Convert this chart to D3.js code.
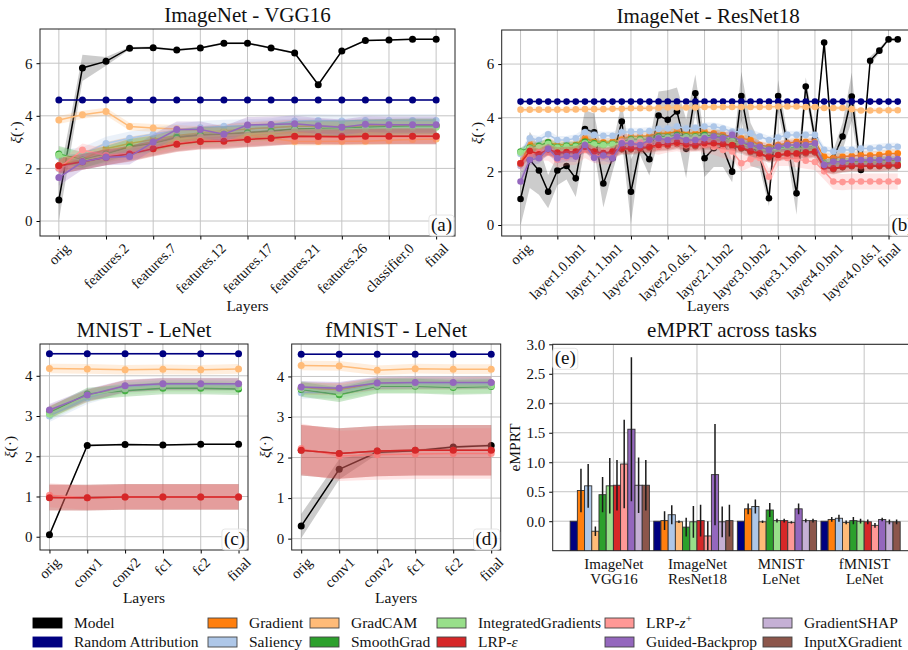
<!DOCTYPE html>
<html>
<head>
<meta charset="utf-8">
<script src="https://cdn.jsdelivr.net/npm/d3@7"></script>
<style>
  body { margin: 0; background: #fff; }
  svg text { font-family: "Liberation Serif", "DejaVu Serif", serif; fill: #111; }
</style>
</head>
<body>
<div id="chart"></div>
<script>

// ---- data ----
const methods = ["Model", "Random Attribution", "Gradient", "Saliency", "GradCAM", "SmoothGrad",
  "IntegratedGradients", "LRP-ε", "LRP-z+", "Guided-Backprop", "GradientSHAP", "InputXGradient"];
const colors = ["#000000", "#000080", "#ff7f0e", "#aec7e8", "#ffbb78", "#2ca02c",
  "#98df8a", "#d62728", "#ff9896", "#9467bd", "#c5b0d5", "#8c564b"];
// draw order (later ones sit on top)
const drawOrder = [0, 10, 11, 1, 2, 3, 4, 5, 6, 8, 7, 9];

const layersVGG = ["orig", "features.2", "features.7", "features.12", "features.17",
  "features.21", "features.26", "classifier.0", "final"];
const layersResNet = ["orig", "layer1.0.bn1", "layer1.1.bn1", "layer2.0.bn1", "layer2.0.ds.1",
  "layer2.1.bn2", "layer3.0.bn2", "layer3.1.bn1", "layer4.0.bn1", "layer4.0.ds.1", "final"];
const layersLeNet = ["orig", "conv1", "conv2", "fc1", "fc2", "final"];

// ImageNet - VGG16, mean per method (rows follow `methods`)
const vggMeans = [
  [0.80, 5.82, 6.07, 6.57, 6.59, 6.50, 6.58, 6.76, 6.76, 6.58, 6.39, 5.18, 6.46, 6.86, 6.88, 6.91, 6.91],
  [4.60, 4.60, 4.60, 4.60, 4.60, 4.60, 4.60, 4.60, 4.60, 4.60, 4.60, 4.60, 4.60, 4.60, 4.60, 4.60, 4.60],
  [2.10, 2.35, 2.75, 2.95, 3.10, 3.25, 3.35, 3.42, 3.50, 3.55, 3.60, 3.60, 3.58, 3.62, 3.62, 3.62, 3.62],
  [2.45, 2.55, 2.95, 3.15, 3.30, 3.45, 3.55, 3.60, 3.62, 3.66, 3.80, 3.82, 3.80, 3.82, 3.82, 3.82, 3.82],
  [3.84, 4.04, 4.16, 3.59, 3.54, 3.50, 3.45, 3.38, 3.28, 3.15, 3.02, 3.02, 3.03, 3.03, 3.07, 3.10, 3.12],
  [2.55, 2.32, 2.55, 2.82, 2.95, 3.18, 3.27, 3.30, 3.36, 3.42, 3.50, 3.52, 3.52, 3.56, 3.58, 3.60, 3.60],
  [2.50, 2.30, 2.50, 2.75, 2.90, 3.10, 3.20, 3.25, 3.30, 3.35, 3.45, 3.48, 3.50, 3.52, 3.55, 3.56, 3.56],
  [2.10, 2.25, 2.42, 2.55, 2.75, 2.92, 3.02, 3.03, 3.10, 3.15, 3.22, 3.21, 3.20, 3.22, 3.22, 3.22, 3.22],
  [2.02, 2.70, 2.50, 2.58, 2.78, 2.95, 3.05, 3.08, 3.12, 3.16, 3.19, 3.19, 3.18, 3.20, 3.20, 3.20, 3.20],
  [1.65, 2.25, 2.42, 2.45, 3.00, 3.48, 3.48, 3.30, 3.65, 3.67, 3.70, 3.62, 3.56, 3.68, 3.66, 3.66, 3.66],
  [2.00, 2.30, 2.60, 2.85, 3.00, 3.20, 3.30, 3.40, 3.50, 3.55, 3.60, 3.60, 3.58, 3.60, 3.60, 3.60, 3.60],
  [2.10, 2.25, 2.42, 2.58, 2.78, 2.95, 3.05, 3.08, 3.12, 3.18, 3.22, 3.22, 3.22, 3.22, 3.22, 3.22, 3.22]
];
const vggModelStd = [0.78, 0.50, 0.17, 0.05, 0.04, 0.04, 0.04, 0.04, 0.04, 0.04, 0.04, 0.05, 0.04, 0.03, 0.03, 0.03, 0.03];
const vggStd = [null, 0.03, 0.25, 0.25, 0.15, 0.3, 0.3, 0.3, 0.25, 0.3, 0.3, 0.3];

// ImageNet - ResNet18
const resMeans = [
  [0.97, 2.43, 2.03, 1.24, 2.03, 2.20, 1.74, 3.58, 3.46, 1.55, 2.49, 3.86, 1.24, 2.90, 2.45, 4.08, 3.92, 4.23, 2.84, 4.91, 2.49,
   2.86, 2.86, 1.99, 4.81, 3.00, 2.60, 1.00, 4.81, 3.00, 1.18, 5.16, 3.20, 6.80, 2.49, 3.30, 4.79, 2.05, 6.12, 6.50, 6.92, 6.92],
  [4.60, 4.60, 4.60, 4.60, 4.60, 4.60, 4.60, 4.60, 4.60, 4.60, 4.60, 4.60, 4.60, 4.60, 4.60, 4.60, 4.60, 4.60, 4.60, 4.60, 4.60,
   4.60, 4.60, 4.60, 4.60, 4.60, 4.60, 4.60, 4.60, 4.60, 4.60, 4.60, 4.60, 4.60, 4.60, 4.60, 4.60, 4.60, 4.60, 4.60, 4.60, 4.60],
  [2.30, 3.02, 2.92, 3.08, 2.98, 3.00, 3.00, 3.23, 3.10, 3.08, 3.10, 3.19, 3.30, 3.30, 3.33, 3.42, 3.42, 3.48, 3.42, 3.42, 3.48,
   3.42, 3.36, 3.30, 3.23, 3.17, 2.98, 2.92, 2.98, 3.05, 3.10, 3.10, 3.10, 2.55, 2.49, 2.55, 2.57, 2.60, 2.60, 2.62, 2.67, 2.67],
  [2.65, 3.23, 3.17, 3.38, 3.17, 3.17, 3.23, 3.46, 3.36, 3.33, 3.33, 3.46, 3.48, 3.48, 3.50, 3.58, 3.60, 3.67, 3.60, 3.62, 3.67,
   3.67, 3.60, 3.48, 3.48, 3.42, 3.30, 3.17, 3.26, 3.36, 3.36, 3.36, 3.36, 2.80, 2.74, 2.80, 2.80, 2.85, 2.85, 2.88, 2.92, 2.92],
  [4.30, 4.30, 4.30, 4.30, 4.30, 4.30, 4.31, 4.32, 4.32, 4.32, 4.33, 4.33, 4.35, 4.35, 4.35, 4.37, 4.38, 4.38, 4.38, 4.38, 4.40,
   4.40, 4.40, 4.40, 4.40, 4.40, 4.40, 4.40, 4.42, 4.42, 4.42, 4.40, 4.40, 4.36, 4.36, 4.36, 4.32, 4.27, 4.27, 4.27, 4.28, 4.28],
  [2.74, 2.88, 2.95, 3.08, 2.90, 2.95, 2.95, 3.10, 3.05, 3.00, 3.02, 3.10, 3.20, 3.20, 3.18, 3.30, 3.28, 3.35, 3.30, 3.30, 3.35,
   3.30, 3.25, 3.15, 3.05, 2.95, 2.85, 2.80, 2.85, 2.90, 2.85, 2.90, 2.90, 2.30, 2.35, 2.35, 2.35, 2.35, 2.38, 2.40, 2.40, 2.40],
  [2.70, 2.85, 2.90, 3.02, 2.88, 2.92, 2.92, 3.05, 3.00, 2.97, 3.00, 3.05, 3.15, 3.15, 3.15, 3.25, 3.25, 3.30, 3.27, 3.27, 3.30,
   3.27, 3.22, 3.12, 3.02, 2.92, 2.82, 2.78, 2.82, 2.88, 2.82, 2.88, 2.88, 2.28, 2.32, 2.32, 2.32, 2.33, 2.35, 2.37, 2.37, 2.37],
  [2.30, 2.76, 2.64, 2.82, 2.70, 2.72, 2.74, 2.92, 2.74, 2.68, 2.74, 2.86, 2.86, 2.88, 2.92, 2.98, 3.00, 3.07, 3.00, 2.98, 3.05,
   3.05, 3.02, 2.98, 2.89, 2.76, 2.67, 2.55, 2.61, 2.67, 2.67, 2.71, 2.74, 2.18, 2.11, 2.18, 2.22, 2.22, 2.22, 2.22, 2.24, 2.24],
  [2.30, 2.62, 2.71, 2.70, 2.43, 2.52, 2.55, 2.80, 2.61, 2.55, 2.58, 3.11, 3.05, 3.08, 2.98, 2.92, 3.00, 3.05, 2.98, 3.05, 2.98,
   2.92, 2.80, 2.74, 2.30, 2.45, 2.50, 1.80, 2.50, 2.50, 2.45, 2.40, 2.35, 2.00, 1.62, 1.60, 1.62, 1.62, 1.62, 1.62, 1.62, 1.62],
  [1.62, 2.43, 2.49, 2.84, 2.49, 2.57, 2.55, 2.98, 2.51, 2.59, 2.49, 3.05, 3.05, 2.98, 3.17, 3.23, 3.17, 3.30, 3.17, 3.17, 3.23,
   3.30, 3.23, 3.36, 3.11, 2.98, 2.92, 2.80, 2.92, 2.98, 2.98, 2.98, 3.05, 2.24, 2.36, 2.36, 2.42, 2.42, 2.42, 2.42, 2.46, 2.46],
  [2.20, 2.70, 2.65, 2.80, 2.60, 2.65, 2.65, 2.90, 2.70, 2.65, 2.70, 2.95, 3.00, 3.00, 3.05, 3.15, 3.15, 3.20, 3.15, 3.15, 3.20,
   3.20, 3.15, 3.15, 3.00, 2.90, 2.80, 2.70, 2.80, 2.85, 2.85, 2.85, 2.90, 2.25, 2.30, 2.30, 2.32, 2.33, 2.35, 2.35, 2.38, 2.38],
  [2.28, 2.72, 2.60, 2.78, 2.66, 2.68, 2.70, 2.88, 2.70, 2.64, 2.70, 2.82, 2.82, 2.84, 2.88, 2.94, 2.96, 3.02, 2.96, 2.94, 3.00,
   3.00, 2.98, 2.94, 2.85, 2.72, 2.63, 2.52, 2.58, 2.63, 2.63, 2.67, 2.70, 2.15, 2.08, 2.15, 2.19, 2.19, 2.19, 2.19, 2.20, 2.20]
];
const resModelStd = [1.00, 1.05, 0.90, 0.62, 0.55, 0.50, 0.70, 0.70, 0.70, 0.90, 0.50, 0.70, 1.20, 0.30, 0.60, 0.90, 1.10, 0.90,
  1.10, 0.70, 0.70, 0.70, 0.70, 0.40, 0.90, 0.80, 0.50, 0.30, 0.60, 0.40, 0.80, 0.35, 0.30, 0.05, 0.30, 0.50, 0.90, 0.20, 0.15,
  0.10, 0.05, 0.05];
const resStd = [null, 0.03, 0.15, 0.15, 0.08, 0.15, 0.15, 0.2, 0.3, 0.2, 0.2, 0.2];

// MNIST - LeNet
const mnistMeans = [
  [0.05, 2.27, 2.29, 2.28, 2.30, 2.30],
  [4.55, 4.55, 4.55, 4.55, 4.55, 4.55],
  [3.10, 3.50, 3.74, 3.79, 3.79, 3.79],
  [3.00, 3.45, 3.72, 3.78, 3.78, 3.78],
  [4.18, 4.17, 4.15, 4.16, 4.15, 4.17],
  [3.08, 3.55, 3.63, 3.69, 3.69, 3.67],
  [3.05, 3.50, 3.68, 3.74, 3.74, 3.72],
  [0.97, 0.97, 0.99, 0.99, 0.99, 0.99],
  [1.03, 0.97, 0.99, 0.99, 0.99, 0.99],
  [3.15, 3.52, 3.75, 3.80, 3.80, 3.80],
  [3.12, 3.50, 3.74, 3.79, 3.79, 3.79],
  [0.98, 0.97, 0.99, 0.99, 0.99, 0.99]
];
const mnistModelStd = [0.05, 0.03, 0.02, 0.02, 0.02, 0.02];
const mnistStd = [null, 0.02, 0.15, 0.15, 0.12, 0.15, 0.15, 0.32, 0.3, 0.15, 0.15, 0.32];

// fMNIST - LeNet
const fmnistMeans = [
  [0.31, 1.71, 2.13, 2.17, 2.26, 2.30],
  [4.55, 4.55, 4.55, 4.55, 4.55, 4.55],
  [3.70, 3.68, 3.82, 3.83, 3.83, 3.84],
  [3.60, 3.62, 3.80, 3.82, 3.82, 3.82],
  [4.27, 4.26, 4.15, 4.19, 4.18, 4.18],
  [3.68, 3.55, 3.76, 3.76, 3.73, 3.75],
  [3.70, 3.60, 3.78, 3.78, 3.76, 3.77],
  [2.18, 2.10, 2.16, 2.18, 2.18, 2.18],
  [2.22, 2.04, 2.07, 2.09, 2.10, 2.10],
  [3.74, 3.71, 3.84, 3.85, 3.85, 3.85],
  [3.72, 3.70, 3.83, 3.84, 3.84, 3.84],
  [2.18, 2.10, 2.16, 2.18, 2.18, 2.18]
];
const fmnistModelStd = [0.30, 0.25, 0.05, 0.03, 0.03, 0.03];
const fmnistStd = [null, 0.02, 0.15, 0.15, 0.12, 0.18, 0.18, 0.62, 0.62, 0.15, 0.15, 0.62];

// eMPRT across tasks (methods without "Model")
const tasks = [["ImageNet", "VGG16"], ["ImageNet", "ResNet18"], ["MNIST", "LeNet"], ["fMNIST", "LeNet"]];
const empVGG = [0.00, 0.52, 0.60, -0.17, 0.45, 0.60, 0.61, 0.97, 1.56, 0.61, 0.61];
const empVGGErr = [0, 0.37, 0.37, 0.08, 0.30, 0.47, 0.43, 0.75, 1.22, 0.47, 0.43];
const empResNet = [0.00, 0.01, 0.11, -0.01, -0.10, -0.01, 0.01, -0.25, 0.79, -0.01, 0.01];
const empResNetErr = [0, 0.16, 0.16, 0.02, 0.16, 0.27, 0.27, 0.25, 0.86, 0.26, 0.27];
const empMNIST = [0.00, 0.21, 0.25, -0.01, 0.19, 0.01, 0.01, -0.02, 0.21, 0.01, 0.01];
const empMNISTErr = [0, 0.09, 0.12, 0.02, 0.12, 0.03, 0.03, 0.02, 0.09, 0.03, 0.03];
const empFMNIST = [0.00, 0.03, 0.05, -0.02, 0.01, 0.00, -0.01, -0.07, 0.03, -0.01, -0.01];
const empFMNISTErr = [0, 0.04, 0.06, 0.03, 0.06, 0.04, 0.04, 0.04, 0.03, 0.04, 0.04];

// ---- drawing ----
const W = 908, H = 650;
const serif = '"Liberation Serif", "DejaVu Serif", serif';
const svg = d3.select("#chart").append("svg")
    .attr("width", W).attr("height", H)
    .attr("viewBox", `0 0 ${W} ${H}`)
    .attr("font-family", serif);

const gridColor = "#c4c4c4";
const fs = { title: 21, label: 15.5, tick: 15, xtick: 14.5, tag: 19, legend: 15.5 };

function labelXi(sel) {
  sel.append("tspan").attr("font-style", "italic").text("ξ");
  sel.append("tspan").text("(·)");
}

function panelTag(g, txt, x, y, anchor) {
  const t = g.append("text").attr("x", x).attr("y", y)
    .attr("text-anchor", anchor).attr("font-size", fs.tag).text(txt);
  const b = t.node().getBBox();
  g.insert("rect", () => t.node())
    .attr("x", b.x - 2).attr("y", b.y + 1).attr("width", b.width + 4).attr("height", b.height - 1)
    .attr("rx", 3).attr("fill", "#fff").attr("fill-opacity", 0.8)
    .attr("stroke", "#e0e0e0").attr("stroke-width", 0.8);
}

function linePanel(p) {
  const g = svg.append("g");
  const x = d3.scaleLinear().domain(p.xDomain).range([p.left, p.right]);
  const y = d3.scaleLinear().domain(p.yDomain).range([p.bottom, p.top]);
  const xTicks = p.tickLabels.map((l, i) => i * p.tickStep);

  g.append("clipPath").attr("id", "clip-" + p.key)
    .append("rect").attr("x", p.left).attr("y", p.top)
    .attr("width", p.right - p.left).attr("height", p.bottom - p.top);

  // grid
  g.append("g").selectAll("line").data(p.yTicks).join("line")
    .attr("x1", p.left).attr("x2", p.right)
    .attr("y1", d => y(d)).attr("y2", d => y(d))
    .attr("stroke", gridColor).attr("stroke-width", 1);
  g.append("g").selectAll("line").data(xTicks).join("line")
    .attr("x1", d => x(d)).attr("x2", d => x(d))
    .attr("y1", p.top).attr("y2", p.bottom)
    .attr("stroke", gridColor).attr("stroke-width", 1);

  const plot = g.append("g").attr("clip-path", `url(#clip-${p.key})`);
  const area = d3.area().x(d => x(d.i)).y0(d => y(d.v - d.s)).y1(d => y(d.v + d.s));
  const line = d3.line().x(d => x(d.i)).y(d => y(d.v));

  drawOrder.forEach(m => {
    const sd = m === 0 ? p.modelStd : p.std[m];
    const pts = p.means[m].map((v, i) => ({ i, v, s: Array.isArray(sd) ? sd[i] : sd }));
    plot.append("path").datum(pts)
      .attr("fill", colors[m]).attr("fill-opacity", m === 0 ? 0.2 : 0.25)
      .attr("d", area);
    plot.append("path").datum(pts)
      .attr("fill", "none").attr("stroke", colors[m]).attr("stroke-width", 1.5)
      .attr("d", line);
    plot.append("g").selectAll("circle").data(pts).join("circle")
      .attr("cx", d => x(d.i)).attr("cy", d => y(d.v)).attr("r", p.r)
      .attr("fill", colors[m]);
  });

  // y axis
  const ya = g.append("g").attr("transform", `translate(${p.left},0)`)
    .call(d3.axisLeft(y).tickValues(p.yTicks).tickSize(3.5).tickPadding(4).tickFormat(d3.format("d")));
  ya.select(".domain").remove();
  ya.attr("font-family", serif);
  ya.selectAll("text").attr("font-size", fs.tick);

  // x axis with rotated labels
  const xa = g.append("g").attr("transform", `translate(0,${p.bottom})`)
    .call(d3.axisBottom(x).tickValues(xTicks).tickSize(3.5).tickFormat((d, i) => p.tickLabels[i]));
  xa.select(".domain").remove();
  xa.attr("font-family", serif);
  xa.selectAll("text")
    .attr("font-size", fs.xtick)
    .attr("y", null).attr("dy", "0.32em").attr("text-anchor", "middle")
    .each(function () {
      const w = this.getComputedTextLength();
      const half = (w + 10) * Math.SQRT1_2 / 2;
      d3.select(this).attr("transform", `translate(0,${6.5 + half}) rotate(-45)`);
    });

  // frame
  g.append("rect").attr("x", p.left).attr("y", p.top)
    .attr("width", p.right - p.left).attr("height", p.bottom - p.top)
    .attr("fill", "none").attr("stroke", "#222").attr("stroke-width", 1);

  g.append("text").attr("x", (p.left + p.right) / 2 + p.titleShift).attr("y", p.top - 7)
    .attr("text-anchor", "middle").attr("font-size", fs.title).text(p.title);
  g.append("text").attr("x", (p.left + p.right) / 2 + p.titleShift).attr("y", p.xLabelY)
    .attr("text-anchor", "middle").attr("font-size", fs.label).text("Layers");
  g.append("text").attr("transform", `translate(${p.yLabelX},${(p.top + p.bottom) / 2}) rotate(-90)`)
    .attr("text-anchor", "middle").attr("font-size", fs.label).call(labelXi);

  panelTag(g, p.tag, p.right - 3, p.bottom - 5, "end");
}

linePanel({
  key: "a", left: 40, right: 455, top: 29, bottom: 236,
  xDomain: [-0.8, 16.8], yDomain: [-0.57, 7.3], yTicks: [0, 2, 4, 6],
  tickLabels: layersVGG, tickStep: 2, means: vggMeans, modelStd: vggModelStd, std: vggStd,
  title: "ImageNet - VGG16", titleShift: 0, xLabelY: 311, yLabelX: 21, tag: "(a)", r: 3.5
});
linePanel({
  key: "b", left: 501.7, right: 916.6, top: 30, bottom: 236,
  xDomain: [-2.05, 43.05], yDomain: [-0.41, 7.27], yTicks: [0, 2, 4, 6],
  tickLabels: layersResNet, tickStep: 4, means: resMeans, modelStd: resModelStd, std: resStd,
  title: "ImageNet - ResNet18", titleShift: -1, xLabelY: 311, yLabelX: 482, tag: "(b)", r: 3.3
});
linePanel({
  key: "c", left: 40, right: 248, top: 344, bottom: 550,
  xDomain: [-0.25, 5.25], yDomain: [-0.33, 4.79], yTicks: [0, 1, 2, 3, 4],
  tickLabels: layersLeNet, tickStep: 1, means: mnistMeans, modelStd: mnistModelStd, std: mnistStd,
  title: "MNIST - LeNet", titleShift: 0, xLabelY: 603, yLabelX: 15, tag: "(c)", r: 3.5
});
linePanel({
  key: "d", left: 291.7, right: 500.7, top: 344, bottom: 550,
  xDomain: [-0.25, 5.25], yDomain: [-0.28, 4.8], yTicks: [0, 1, 2, 3, 4],
  tickLabels: layersLeNet, tickStep: 1, means: fmnistMeans, modelStd: fmnistModelStd, std: fmnistStd,
  title: "fMNIST - LeNet", titleShift: 0, xLabelY: 603, yLabelX: 270, tag: "(d)", r: 3.5
});

// ---- panel (e): grouped bars ----
(function () {
  const left = 552.7, right = 917, top = 344.3, bottom = 550.7;
  const g = svg.append("g");
  const x = d3.scaleLinear().domain([-0.726, 3.632]).range([left, right]);
  const y = d3.scaleLinear().domain([-0.5, 3.0]).range([bottom, top]);
  const yTicks = [0, 0.5, 1.0, 1.5, 2.0, 2.5, 3.0];
  const groups = [[empVGG, empVGGErr], [empResNet, empResNetErr], [empMNIST, empMNISTErr], [empFMNIST, empFMNISTErr]];
  const bw = 0.0862;

  g.append("clipPath").attr("id", "clip-e").append("rect")
    .attr("x", left).attr("y", top).attr("width", right - left).attr("height", bottom - top);

  g.append("g").selectAll("line").data(yTicks).join("line")
    .attr("x1", left).attr("x2", right).attr("y1", d => y(d)).attr("y2", d => y(d))
    .attr("stroke", gridColor);
  g.append("g").selectAll("line").data(d3.range(tasks.length)).join("line")
    .attr("x1", d => x(d)).attr("x2", d => x(d)).attr("y1", top).attr("y2", bottom)
    .attr("stroke", gridColor);

  const bars = [];
  groups.forEach(([vals, errs], gi) => {
    vals.forEach((v, i) => bars.push({ gi, i, v, e: errs[i] }));
  });
  const plot = g.append("g").attr("clip-path", "url(#clip-e)");
  plot.selectAll("rect").data(bars).join("rect")
    .attr("x", d => x(d.gi + (d.i - 6) * bw))
    .attr("width", x(bw) - x(0))
    .attr("y", d => y(d.v))
    .attr("height", d => bottom + 2 - y(d.v))
    .attr("fill", d => colors[d.i + 1])
    .attr("stroke", "#333").attr("stroke-width", 0.9);
  plot.selectAll("line.err").data(bars.filter(d => d.e > 0)).join("line")
    .attr("class", "err")
    .attr("x1", d => x(d.gi + (d.i - 5.5) * bw)).attr("x2", d => x(d.gi + (d.i - 5.5) * bw))
    .attr("y1", d => y(d.v - d.e)).attr("y2", d => y(d.v + d.e))
    .attr("stroke", "#1a1a1a").attr("stroke-width", 1.5);

  const ya = g.append("g").attr("transform", `translate(${left},0)`)
    .call(d3.axisLeft(y).tickValues(yTicks).tickSize(3.5).tickPadding(4).tickFormat(d3.format(".1f")));
  ya.select(".domain").remove();
  ya.attr("font-family", serif);
  ya.selectAll("text").attr("font-size", fs.tick);

  const xa = g.append("g").attr("transform", `translate(0,${bottom})`)
    .call(d3.axisBottom(x).tickValues(d3.range(tasks.length)).tickSize(0).tickFormat(""));
  xa.select(".domain").remove();
  xa.selectAll(".tick").append("text")
    .attr("text-anchor", "middle").attr("font-size", fs.tick).attr("fill", "#111")
    .selectAll("tspan").data((d) => tasks[d]).join("tspan")
    .attr("x", 0).attr("y", (d, k) => 18 + k * 15).text(d => d);

  g.append("rect").attr("x", left).attr("y", top)
    .attr("width", right - left).attr("height", bottom - top)
    .attr("fill", "none").attr("stroke", "#222").attr("stroke-width", 1);

  g.append("text").attr("x", 732).attr("y", top - 7)
    .attr("text-anchor", "middle").attr("font-size", fs.title).text("eMPRT across tasks");
  g.append("text").attr("transform", `translate(520,${(top + bottom) / 2}) rotate(-90)`)
    .attr("text-anchor", "middle").attr("font-size", fs.label).text("eMPRT");

  panelTag(g, "(e)", left + 2, top + 20, "start");
})();

// ---- legend ----
(function () {
  const colX = [33, 208, 310, 437, 605, 763];
  const rowY = [623, 642];
  const g = svg.append("g");
  methods.forEach((name, k) => {
    const cx = colX[Math.floor(k / 2)], cy = rowY[k % 2];
    g.append("rect").attr("x", cx).attr("y", cy - 5).attr("width", 29).attr("height", 10)
      .attr("fill", colors[k]).attr("stroke", k < 2 ? colors[k] : "#444").attr("stroke-width", 0.9);
    const t = g.append("text").attr("x", cx + 41).attr("y", cy + 5).attr("font-size", fs.legend);
    if (name === "LRP-ε") {
      t.append("tspan").text("LRP-");
      t.append("tspan").attr("font-style", "italic").text("ε");
    } else if (name === "LRP-z+") {
      t.append("tspan").text("LRP-");
      t.append("tspan").attr("font-style", "italic").text("z");
      t.append("tspan").attr("font-size", 11).attr("dy", -6).text("+");
    } else {
      t.text(name);
    }
  });
})();

</script>
</body>
</html>
